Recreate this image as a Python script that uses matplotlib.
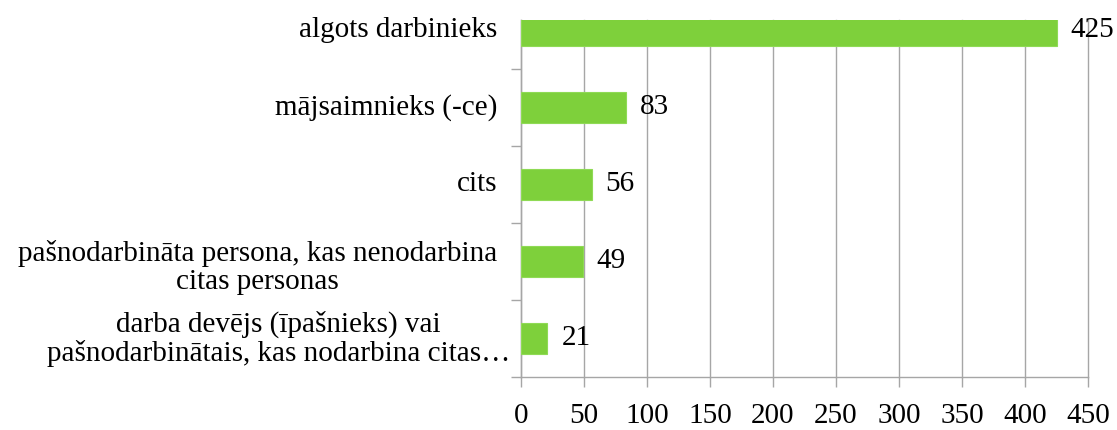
import matplotlib
matplotlib.use("Agg")
import matplotlib.pyplot as plt
import matplotlib.transforms as mtransforms

categories = [
    "algots darbinieks",
    "mājsaimnieks (-ce)",
    "cits",
    "pašnodarbināta persona, kas nenodarbina\ncitas personas",
    "darba devējs (īpašnieks) vai\npašnodarbinātais, kas nodarbina citas…",
]
values = [425, 83, 56, 49, 21]
xticks = [0, 50, 100, 150, 200, 250, 300, 350, 400, 450]

plt.rcParams['font.family'] = ['Liberation Serif', 'DejaVu Serif']

W, H = 1117, 430
fig = plt.figure(figsize=(W / 100, H / 100), dpi=100)
left, right, bottom, top = 521, 1088, 377, 20
ax = fig.add_axes([left / W, 1 - bottom / H, (right - left) / W, (bottom - top) / H])

FS = 21
green = '#7ED03B'
grid_c = '#A6A6A6'
ypos = list(range(len(categories)))
ax.barh(ypos, values, height=0.4, color=green, edgecolor='#8FDA55', linewidth=0.8, zorder=3)
ax.set_ylim(len(categories) - 0.5, -0.136)
ax.set_xlim(0, 450)
ax.set_xticks(xticks)
ax.set_xticklabels([str(t) for t in xticks])
ax.tick_params(axis='x', length=7, width=1, color=grid_c, direction='out', pad=12, labelsize=FS)

ax.set_yticks([i + 0.5 for i in range(len(categories))])
ax.set_yticklabels([])
ax.tick_params(axis='y', length=7, width=1, color=grid_c, direction='out')

ax.grid(axis='x', color=grid_c, linewidth=1, zorder=0)
for gl in ax.get_xgridlines():
    gl.set_clip_on(False)
ax.set_axisbelow(True)
for s in ['top', 'right']:
    ax.spines[s].set_visible(False)
for s in ['left', 'bottom']:
    ax.spines[s].set_color(grid_c)
    ax.spines[s].set_linewidth(1)

trans = mtransforms.blended_transform_factory(ax.transAxes, ax.transData)
for i, lab in enumerate(categories):
    dx = -24 if i < len(categories) - 1 else -11
    dy = -6 if i == 3 else 0
    off = mtransforms.offset_copy(trans, fig=fig, x=dx, y=dy, units='dots')
    ax.text(0, i, lab, transform=off, ha='right', va='center', multialignment='center',
            fontsize=FS, linespacing=1.1, color='black', clip_on=False)

for i, v in enumerate(values):
    ax.annotate(str(v), xy=(v, i), xytext=(10, 0), textcoords='offset points',
                ha='left', va='center', fontsize=FS, color='black', zorder=5,
                annotation_clip=False)

fig.savefig('out.png', dpi=100)
